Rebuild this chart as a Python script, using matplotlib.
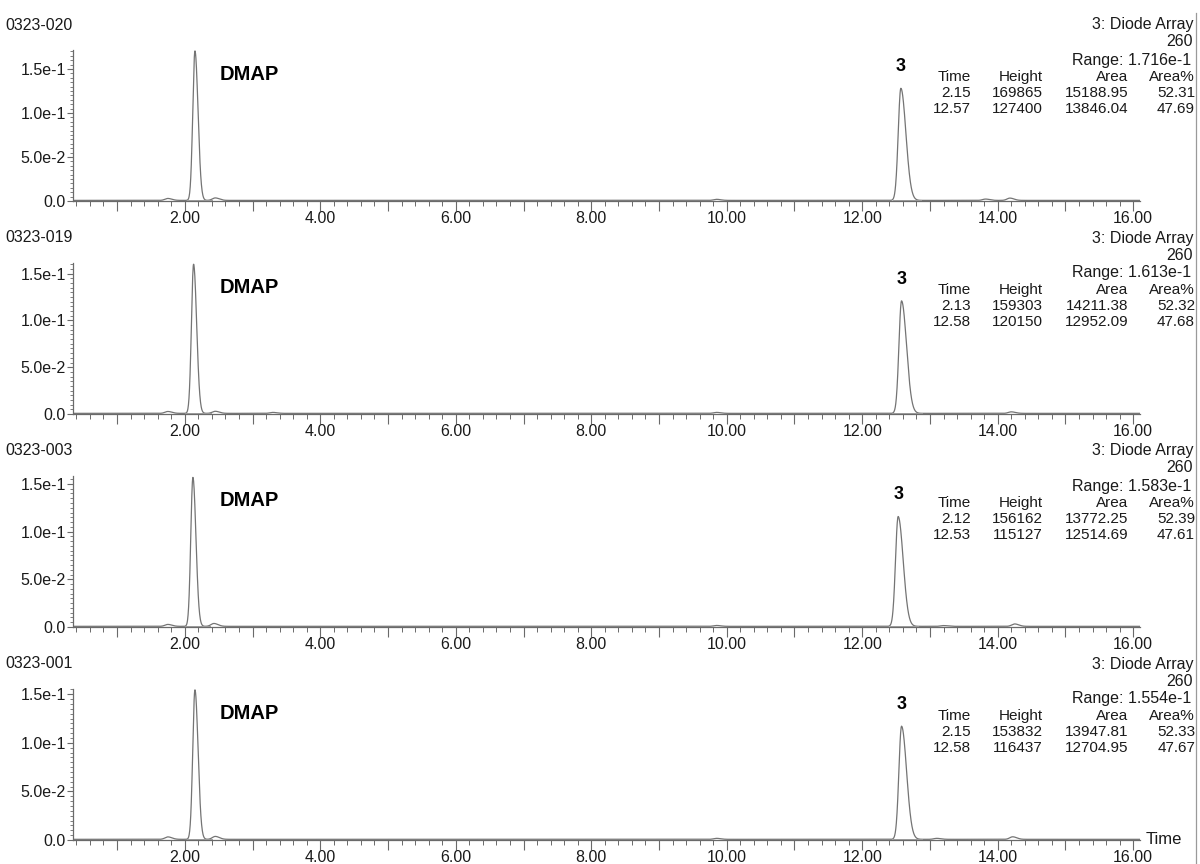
import matplotlib
matplotlib.use("Agg")
import matplotlib.pyplot as plt
import numpy as np
from matplotlib.ticker import MultipleLocator, FixedLocator, FuncFormatter

plt.rcParams['font.family'] = ['Liberation Sans', 'DejaVu Sans']

# runs, stacked top to bottom
runs = ["0323-020", "0323-019", "0323-003", "0323-001"]
ranges = [1.716e-1, 1.613e-1, 1.583e-1, 1.554e-1]

# integrated peaks: DMAP and compound 3
dmap_time = [2.15, 2.13, 2.12, 2.15]
dmap_height = [169865, 159303, 156162, 153832]
dmap_area = [15188.95, 14211.38, 13772.25, 13947.81]
dmap_pct = [52.31, 52.32, 52.39, 52.33]

p3_time = [12.57, 12.58, 12.53, 12.58]
p3_height = [127400, 120150, 115127, 116437]
p3_area = [13846.04, 12952.09, 12514.69, 12704.95]
p3_pct = [47.69, 47.68, 47.61, 47.67]

# small impurity bumps (time, height in AU)
minor_times = [
    [1.75, 2.45, 9.85, 13.82, 14.18],
    [1.75, 2.45, 3.30, 9.85, 14.20],
    [1.75, 2.43, 9.85, 13.20, 14.25],
    [1.75, 2.45, 9.85, 13.10, 14.22],
]
minor_heights = [
    [0.0022, 0.0028, 0.0012, 0.0015, 0.0026],
    [0.0020, 0.0022, 0.0010, 0.0010, 0.0016],
    [0.0020, 0.0030, 0.0009, 0.0008, 0.0025],
    [0.0025, 0.0030, 0.0010, 0.0010, 0.0026],
]

W, H = 1200, 864
def fx(px):
    return px / W
def fy(py):
    return 1 - py / H

TRACE = '#747474'
AXC = '#6a6a6a'
TXT = '#1a1a1a'

def peak(t, t0, h, s, skew=1.0):
    sl = s * 0.85
    sr = s * 1.2 * skew
    return h * np.where(t < t0, np.exp(-0.5 * ((t - t0) / sl) ** 2),
                        np.exp(-0.5 * ((t - t0) / sr) ** 2))

t = np.linspace(0.35, 16.1, 6000)

fig = plt.figure(figsize=(12, 8.64), dpi=100)

ax_left, ax_right = 73, 1140
ax_h = 151
for i, name in enumerate(runs):
    y0 = 201 + 213 * i
    ax = fig.add_axes([fx(ax_left), fy(y0), fx(ax_right - ax_left), ax_h / H])
    rng = ranges[i]

    base = 0.0007
    sig_d = 0.42 * dmap_area[i] / dmap_height[i]
    sig_3 = 0.42 * p3_area[i] / p3_height[i]
    y = base + peak(t, dmap_time[i], dmap_height[i] * 1e-6, sig_d)
    y += peak(t, p3_time[i], p3_height[i] * 1e-6, sig_3, skew=1.35)
    for mt, mh in zip(minor_times[i], minor_heights[i]):
        y += peak(t, mt, mh, 0.05)
    ax.plot(t, y, color=TRACE, lw=0.9)

    # integration baselines under the two main peaks
    ax.plot([dmap_time[i] - 0.12, dmap_time[i] + 0.25], [base, base],
            color='#a0a0a0', lw=0.7)
    ax.plot([p3_time[i] - 0.12, p3_time[i] + 0.3], [base, base],
            color='#a0a0a0', lw=0.7)

    ax.set_xlim(0.35, 16.1)
    ax.set_ylim(0, rng)
    for s in ['top', 'right']:
        ax.spines[s].set_visible(False)
    for s in ['left', 'bottom']:
        ax.spines[s].set_color(AXC)
        ax.spines[s].set_linewidth(0.9)

    ax.xaxis.set_major_locator(MultipleLocator(1.0))
    ax.xaxis.set_minor_locator(MultipleLocator(0.2))
    ax.xaxis.set_major_formatter(FuncFormatter(
        lambda v, p: "%.2f" % v if abs(v / 2 - round(v / 2)) < 1e-6 and v > 0.5 else ""))
    ax.yaxis.set_major_locator(FixedLocator([0, 0.05, 0.10, 0.15]))
    ax.yaxis.set_minor_locator(MultipleLocator(0.005))
    ax.set_yticklabels(["0.0", "5.0e-2", "1.0e-1", "1.5e-1"])
    ax.tick_params(axis='x', which='major', length=7, width=0.8, color=AXC,
                   labelsize=11.5, labelcolor=TXT, pad=0.5)
    ax.tick_params(axis='x', which='minor', length=3.5, width=0.7, color=AXC)
    ax.tick_params(axis='y', which='major', length=4, width=0.8, color=AXC,
                   labelsize=11.5, labelcolor=TXT, pad=1)
    ax.tick_params(axis='y', which='minor', length=2, width=0.6, color=AXC)

    # peak labels
    ax.text(2.52, 0.84, "DMAP", fontsize=14.5, fontweight='bold', color='black',
            va='center', ha='left', transform=ax.get_xaxis_transform())
    ax.annotate("3", (p3_time[i], p3_height[i] * 1e-6), xytext=(0, 10),
                textcoords='offset points', ha='center', va='bottom',
                fontsize=13, fontweight='bold', color='black')

    # header and peak table
    fig.text(fx(5), fy(y0 - 176), name, fontsize=11.5, color=TXT, va='center')
    fig.text(fx(1193), fy(y0 - 176), "3: Diode Array", fontsize=11.5, color=TXT,
             ha='right', va='center')
    fig.text(fx(1193), fy(y0 - 159), "260", fontsize=11.5, color=TXT,
             ha='right', va='center')
    fig.text(fx(1191), fy(y0 - 141), "Range: %.3fe-1" % (rng * 10), fontsize=11.5,
             color=TXT, ha='right', va='center')
    col_x = [971, 1043, 1128, 1195]
    header = ["Time", "Height", "Area", "Area%"]
    rows = [
        ["%.2f" % dmap_time[i], "%d" % dmap_height[i], "%.2f" % dmap_area[i], "%.2f" % dmap_pct[i]],
        ["%.2f" % p3_time[i], "%d" % p3_height[i], "%.2f" % p3_area[i], "%.2f" % p3_pct[i]],
    ]
    for cx, txt in zip(col_x, header):
        fig.text(fx(cx), fy(y0 - 124), txt, fontsize=11, color=TXT,
                 ha='right', va='center')
    for r, row in enumerate(rows):
        for cx, txt in zip(col_x, row):
            fig.text(fx(cx), fy(y0 - 108 + 16 * r), txt, fontsize=11,
                     color=TXT, ha='right', va='center')

fig.text(fx(1146), fy(840), "Time", fontsize=12, color=TXT, ha='left', va='center')
fig.add_artist(plt.Line2D([fx(1196), fx(1196)], [fy(13), fy(864)],
                          color='#9a9a9a', lw=0.9))

fig.savefig("out.png", dpi=100)
